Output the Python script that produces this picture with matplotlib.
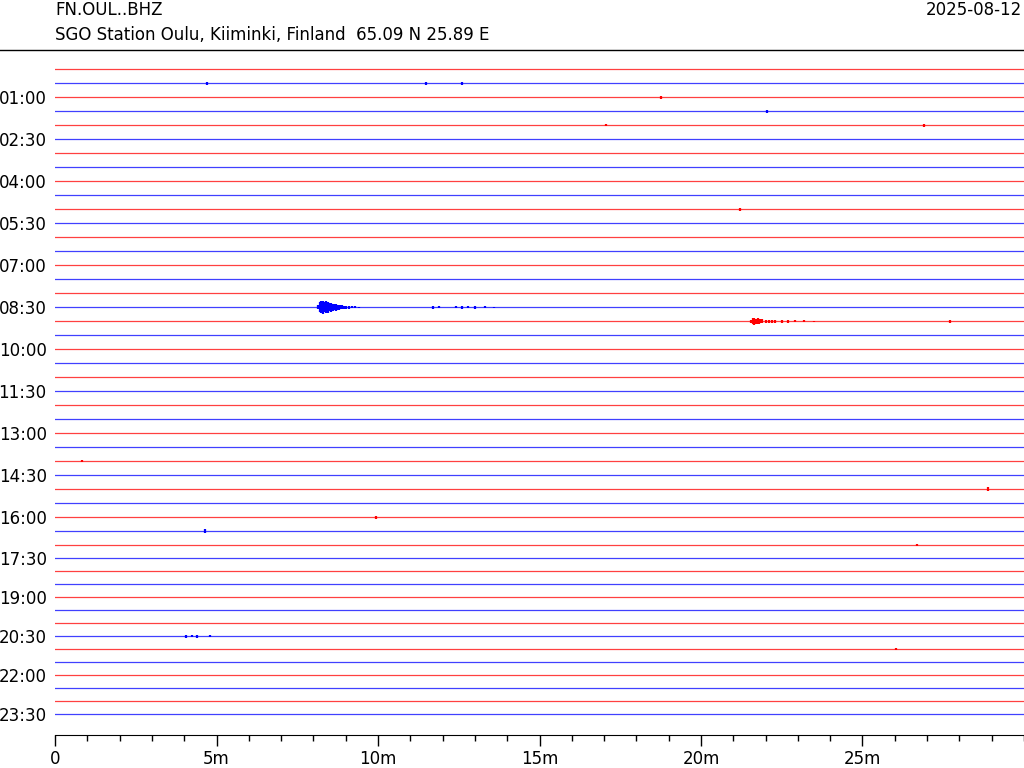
"""
Helicorder style day plot for FN.OUL..BHZ (30 minute lines)
"""
import numpy as np
import matplotlib
matplotlib.use("Agg")
import matplotlib.pyplot as plt
from matplotlib.lines import Line2D

# Station info
STATION = "FN.OUL..BHZ"
SUBTITLE = "SGO Station Oulu, Kiiminki, Finland  65.09 N 25.89 E"
DAY = "2025-08-12"

# 48 lines of 30 minutes each, line 0 = 00:00
N_LINES = 48
LINE_MINUTES = 30
line_colors = ["red", "blue"]

# y tick labels (every third line, starting at 01:00)
label_lines = [2, 5, 8, 11, 14, 17, 20, 23, 26, 29, 32, 35, 38, 41, 44, 47]
label_texts = ["01:00", "02:30", "04:00", "05:30", "07:00", "08:30", "10:00", "11:30",
               "13:00", "14:30", "16:00", "17:30", "19:00", "20:30", "22:00", "23:30"]

# x ticks
x_major = [0, 5, 10, 15, 20, 25]
x_major_labels = ["0", "5m", "10m", "15m", "20m", "25m"]

# amplitudes below are in 1/14 of a line spacing
AMP_UNIT = 1 / 14

# Events: line index, minutes, half amplitude of peaks
quake_line_a = 17
quake_min_a = [8.15, 8.20, 8.25, 8.30, 8.35, 8.40, 8.45, 8.50, 8.55, 8.60, 8.65, 8.70,
               8.75, 8.80, 8.85, 8.90, 8.95, 9.00, 9.10, 9.20, 9.30, 9.40,
               11.7, 11.9, 12.4, 12.6, 12.8, 13.0, 13.3, 13.6]
quake_amp_a = [2.0, 5.0, 6.0, 6.5, 5.0, 6.0, 5.5, 4.0, 4.5, 3.5, 3.0, 3.5,
               2.5, 2.5, 2.0, 2.0, 1.5, 1.5, 1.2, 1.0, 1.0, 0.8,
               1.2, 1.0, 1.0, 1.3, 1.0, 1.2, 1.0, 0.8]

quake_line_b = 18
quake_min_b = [21.55, 21.60, 21.65, 21.70, 21.75, 21.80, 21.85, 21.90, 22.00, 22.10,
               22.20, 22.30, 22.50, 22.70, 22.90, 23.20, 23.50]
quake_amp_b = [1.5, 3.0, 3.5, 2.5, 3.0, 2.5, 2.0, 2.0, 1.8, 1.8,
               1.5, 1.5, 1.3, 1.2, 1.0, 1.0, 0.8]

quake_line_c = 41
quake_min_c = [4.05, 4.25, 4.40, 4.80]
quake_amp_c = [1.5, 1.3, 1.5, 1.0]

# Small single spikes: line index, minute, half amplitude
spike_lines = [1, 1, 1, 2, 3, 4, 4, 10, 18, 28, 30, 32, 33, 34, 42]
spike_mins = [4.7, 11.5, 12.6, 18.75, 22.05, 17.05, 26.9, 21.2, 27.7, 0.85, 28.9, 9.95, 4.65, 26.7, 26.05]
spike_amps = [1.2, 1.2, 1.2, 1.8, 1.8, 1.0, 1.5, 1.8, 1.8, 1.2, 2.2, 1.5, 1.8, 1.2, 1.0]


def line_y(i):
    # lines after 17:00 sit a little closer together (13 px instead of 14 px)
    i = np.asarray(i, dtype=float)
    return i - np.clip(i - 34, 0, None) / 14


def main():
    fig = plt.figure(figsize=(10.24, 7.68), dpi=100)
    ax = fig.add_axes([55 / 1024, 33 / 768, 1 - 55 / 1024, (735 - 52) / 768])

    # baseline traces
    for i in range(N_LINES):
        y = line_y(i)
        ax.plot([0, LINE_MINUTES], [y, y], color=line_colors[i % 2], lw=0.9, alpha=0.75)

    # events drawn as peaks around their line
    for line, mins, amps in [(quake_line_a, quake_min_a, quake_amp_a),
                             (quake_line_b, quake_min_b, quake_amp_b),
                             (quake_line_c, quake_min_c, quake_amp_c)]:
        y = line_y(line)
        amps = np.array(amps) * AMP_UNIT
        ax.vlines(mins, y - amps, y + amps, color=line_colors[line % 2], lw=1.6)

    # single spikes
    for line, m, a in zip(spike_lines, spike_mins, spike_amps):
        y = line_y(line)
        ax.vlines(m, y - a * AMP_UNIT, y + a * AMP_UNIT, color=line_colors[line % 2], lw=1.6)

    ax.set_xlim(0, LINE_MINUTES)
    ax.set_ylim(line_y(N_LINES - 1) + 1.5, -1.25)

    ax.set_xticks(x_major)
    ax.set_xticklabels(x_major_labels, fontsize=12)
    ax.set_xticks(range(0, LINE_MINUTES + 1), minor=True)
    ax.tick_params(axis="x", which="major", length=8, width=1, pad=3)
    ax.tick_params(axis="x", which="minor", length=4, width=1)

    ax.set_yticks(line_y(label_lines))
    ax.set_yticklabels(label_texts, fontsize=12)
    ax.tick_params(axis="y", length=0, pad=6)

    for side in ["left", "top", "right"]:
        ax.spines[side].set_visible(False)

    # header
    fig.text(55 / 1024, 1 - 10 / 768, STATION, fontsize=12, ha="left", va="center")
    fig.text(55 / 1024, 1 - 35 / 768, SUBTITLE, fontsize=12, ha="left", va="center")
    fig.text(1022 / 1024, 1 - 10 / 768, DAY, fontsize=12, ha="right", va="center")
    fig.add_artist(Line2D([0, 1], [1 - 50 / 768, 1 - 50 / 768], color="black", lw=1,
                          transform=fig.transFigure))

    fig.savefig("out.png", dpi=100)


if __name__ == "__main__":
    main()
